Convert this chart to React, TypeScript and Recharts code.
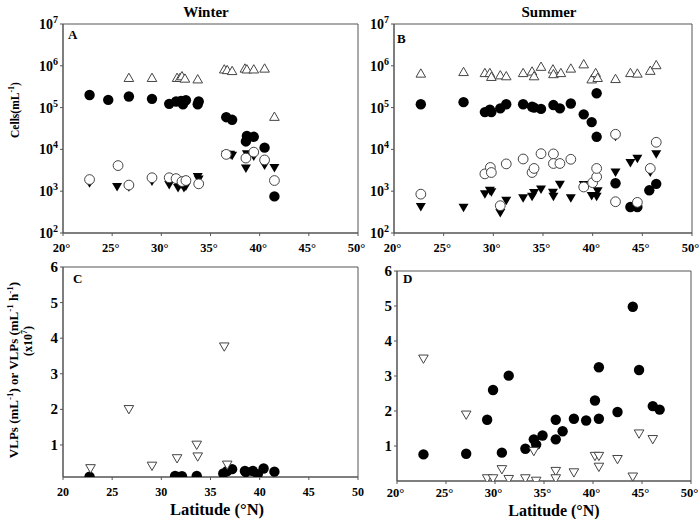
import React from "react";
import { ScatterChart, Scatter, XAxis, YAxis, ReferenceArea } from "recharts";

// [latitude, value] pairs
const winterFilledCircles: [number, number][] = [
  [22.7, 2.0e5], [24.6, 1.53e5], [26.7, 1.84e5], [29.05, 1.62e5], [30.8, 1.23e5],
  [31.5, 1.4e5], [32.0, 1.45e5], [32.2, 1.2e5], [32.5, 1.5e5], [33.7, 1.2e5],
  [33.8, 1.4e5], [36.6, 5.9e4], [37.2, 5.1e4], [38.6, 1.55e4], [38.7, 2.1e4],
  [39.4, 2.0e4], [40.5, 1.1e4], [41.5, 750],
];
const winterOpenUp: [number, number][] = [
  [26.7, 5.2e5], [29.05, 5.2e5], [31.6, 5.2e5], [31.9, 5.2e5], [32.1, 5.7e5],
  [32.4, 5.0e5], [33.7, 4.8e5], [36.4, 8.3e5], [36.7, 8.0e5], [37.2, 7.6e5],
  [38.5, 8.7e5], [38.7, 8.3e5], [39.4, 8.3e5], [40.5, 8.7e5], [41.5, 6.1e4],
];
const winterFilledDown: [number, number][] = [
  [22.7, 1.56e3], [25.5, 1.26e3], [26.7, 1.25e3], [29.05, 1.7e3], [30.8, 1.4e3],
  [31.5, 1.7e3], [31.7, 1.2e3], [32.0, 1.45e3], [32.3, 1.2e3], [32.5, 1.3e3],
  [33.7, 2.2e3], [33.8, 1.9e3], [36.6, 7.4e3], [37.0, 7.4e3], [37.2, 7.0e3],
  [38.6, 3.5e3], [38.7, 7.7e3], [39.4, 6.8e3], [40.5, 4.1e3], [41.5, 3.6e3],
];
const winterOpenCircles: [number, number][] = [
  [22.7, 1.9e3], [25.6, 4.1e3], [26.7, 1.4e3], [29.05, 2.1e3], [30.8, 2.1e3],
  [31.5, 2.0e3], [32.1, 1.7e3], [32.5, 1.8e3], [33.8, 1.5e3], [36.6, 7.6e3],
  [38.6, 6.2e3], [39.4, 8.6e3], [40.5, 5.6e3], [41.5, 1.8e3],
];

const summerFilledCircles: [number, number][] = [
  [22.7, 1.2e5], [27.0, 1.35e5], [29.15, 7.8e4], [29.65, 8.9e4], [29.8, 7.8e4],
  [30.7, 9.6e4], [31.3, 1.2e5], [33.0, 1.2e5], [33.9, 1.05e5], [34.1, 1.0e5],
  [34.8, 9.3e4], [36.05, 1.15e5], [36.7, 9.6e4], [37.8, 1.25e5], [39.1, 6.9e4],
  [39.9, 4.5e4], [40.4, 2.0e4], [40.4, 2.2e5], [42.3, 1.55e3], [43.8, 420],
  [44.5, 420], [45.7, 1.05e3], [46.4, 1.5e3],
];
const summerOpenUp: [number, number][] = [
  [22.7, 6.6e5], [27.0, 7.2e5], [29.15, 6.8e5], [29.65, 6.8e5], [29.8, 5.5e5],
  [30.7, 6.0e5], [31.3, 5.7e5], [33.0, 6.8e5], [33.9, 7.4e5], [34.1, 5.7e5],
  [34.8, 9.6e5], [36.0, 8.3e5], [36.05, 6.4e5], [36.8, 6.8e5], [37.8, 8.7e5],
  [39.1, 1.1e6], [39.9, 4.8e5], [40.3, 6.8e5], [40.5, 5.2e5], [42.3, 4.9e5],
  [43.8, 6.8e5], [44.5, 6.6e5], [45.8, 7.7e5], [46.4, 1.05e6],
];
const summerFilledDown: [number, number][] = [
  [22.7, 420], [27.0, 400], [29.15, 850], [29.65, 1.02e3], [29.8, 950],
  [30.7, 300], [31.3, 590], [33.0, 680], [33.9, 740], [34.1, 900],
  [34.8, 1.1e3], [36.0, 920], [36.05, 740], [36.7, 1.43e3], [37.8, 680],
  [39.1, 1.4e3], [39.9, 770], [40.4, 740], [40.5, 1.0e3], [42.3, 2.0e4],
  [42.3, 2.8e3], [43.8, 4.7e3], [44.5, 6.0e3], [45.8, 2.8e3], [46.4, 7.7e3],
];
const summerOpenCircles: [number, number][] = [
  [22.7, 850], [29.15, 2.6e3], [29.7, 3.7e3], [29.8, 2.8e3], [30.7, 450],
  [31.3, 4.5e3], [33.0, 5.9e3], [33.9, 2.8e3], [34.1, 3.5e3], [34.8, 7.9e3],
  [36.05, 7.8e3], [36.05, 4.6e3], [36.7, 4.6e3], [37.8, 5.8e3], [39.1, 1.26e3],
  [40.0, 1.6e3], [40.4, 2.2e3], [40.4, 3.5e3], [42.3, 2.3e4], [42.3, 560],
  [44.5, 540], [45.8, 3.5e3], [46.4, 1.48e4],
];

const winterVlpCircles: [number, number][] = [
  [22.7, 0.11], [31.4, 0.13], [31.8, 0.1], [32.1, 0.12], [33.6, 0.13],
  [36.3, 0.2], [36.7, 0.27], [37.2, 0.32], [38.5, 0.27], [38.6, 0.24],
  [39.3, 0.27], [39.8, 0.18], [40.4, 0.34], [41.5, 0.25],
];
const winterVlpTriangles: [number, number][] = [
  [22.8, 0.34], [26.7, 2.0], [29.05, 0.41], [31.6, 0.62], [33.6, 1.0],
  [33.7, 0.67], [36.4, 3.76], [36.7, 0.44],
];
const summerVlpCircles: [number, number][] = [
  [22.7, 0.76], [27.06, 0.78], [29.2, 1.75], [29.8, 2.6], [30.7, 0.81],
  [31.4, 3.01], [33.1, 0.92], [33.96, 1.19], [34.2, 1.04], [34.85, 1.3],
  [36.2, 1.75], [36.2, 1.19], [36.9, 1.42], [38.05, 1.78], [39.3, 1.73],
  [40.2, 2.3], [40.6, 3.25], [40.6, 1.78], [42.5, 1.97], [44.06, 4.98],
  [44.7, 3.17], [46.1, 2.14], [46.8, 2.04],
];
const summerVlpTriangles: [number, number][] = [
  [22.7, 3.49], [27.06, 1.89], [29.2, 0.07], [29.8, 0.07], [30.7, 0.33],
  [31.4, 0.05], [33.1, 0.07], [33.96, 0.85], [34.2, 0.0], [36.2, 0.28],
  [36.2, 0.07], [38.05, 0.24], [40.2, 0.71], [40.6, 0.71], [40.6, 0.4],
  [42.5, 0.62], [44.06, 0.12], [44.7, 1.35], [46.1, 1.19],
];

const latTicks = [20, 25, 30, 35, 40, 45, 50];
const logTicks = [1e2, 1e3, 1e4, 1e5, 1e6, 1e7];
const vlpTicks = [1, 2, 3, 4, 5, 6];

const FONT = "'Liberation Serif', 'Times New Roman', serif";
const LINE = "#555";
const OPEN_STROKE = "#444";

const toPts = (arr: [number, number][]) => arr.map(([lat, v]) => ({ lat, v }));

const FilledCircle = (p: any) => <circle cx={p.cx} cy={p.cy} r={5.2} fill="#000" />;
const OpenCircle = (p: any) => (
  <circle cx={p.cx} cy={p.cy} r={4.9} fill="#fff" stroke={OPEN_STROKE} strokeWidth={1} />
);
const OpenUp = (p: any) => (
  <polygon
    points={`${p.cx},${p.cy - 4.5} ${p.cx - 4.8},${p.cy + 3.8} ${p.cx + 4.8},${p.cy + 3.8}`}
    fill="#fff"
    stroke={OPEN_STROKE}
    strokeWidth={1}
  />
);
const FilledDown = (p: any) => (
  <polygon
    points={`${p.cx - 5},${p.cy - 4} ${p.cx + 5},${p.cy - 4} ${p.cx},${p.cy + 4.5}`}
    fill="#000"
  />
);
const OpenDown = (p: any) => (
  <polygon
    points={`${p.cx - 4.8},${p.cy - 3.8} ${p.cx + 4.8},${p.cy - 3.8} ${p.cx},${p.cy + 4.5}`}
    fill="#fff"
    stroke={OPEN_STROKE}
    strokeWidth={1}
  />
);

const PowTick = ({ x, y, payload }: any) => {
  const exp = Math.round(Math.log10(payload.value));
  return (
    <text x={x} y={y + 5} textAnchor="end" fontFamily={FONT} fontWeight="bold" fontSize={14} fill="#000">
      10<tspan dy={-6} fontSize={10}>{exp}</tspan>
    </text>
  );
};

const NumTick = ({ x, y, payload }: any) => (
  <text x={x} y={y + 5} textAnchor="end" fontFamily={FONT} fontWeight="bold" fontSize={15} fill="#000">
    {payload.value}
  </text>
);

const makeDegTick = (dy: number) => ({ x, y, payload }: any) => (
  <text x={x - 1.5} y={y + dy} textAnchor="middle" fontFamily={FONT} fontWeight="bold" fontSize={12.5} fill="#000">
    {payload.value}°
  </text>
);
const DegTickTop = makeDegTick(14);
const DegTickBottom = makeDegTick(11);

const PlainTick = ({ x, y, payload }: any) => (
  <text x={x} y={y + 14} textAnchor="middle" fontFamily={FONT} fontWeight="bold" fontSize={12} fill="#000">
    {payload.value}
  </text>
);

const CellsPanel = ({ left, width, right, sets }: any) => (
  <div style={{ position: "absolute", left, top: 0 }}>
    <ScatterChart width={width} height={258} margin={{ top: 24, right, bottom: 0, left: 0 }}>
      <XAxis
        type="number"
        dataKey="lat"
        domain={[20, 50]}
        ticks={latTicks}
        height={25}
        tickSize={3}
        stroke={LINE}
        tick={<DegTickTop />}
      />
      <YAxis
        type="number"
        dataKey="v"
        scale="log"
        domain={[100, 1e7]}
        ticks={logTicks}
        width={63}
        tickSize={3}
        stroke={LINE}
        tick={<PowTick />}
        allowDataOverflow
      />
      <ReferenceArea x1={20} x2={50} y1={100} y2={1e7} fill="none" stroke={LINE} strokeOpacity={1} fillOpacity={0} />
      <Scatter data={toPts(sets[0])} shape={FilledCircle} isAnimationActive={false} />
      <Scatter data={toPts(sets[1])} shape={OpenUp} isAnimationActive={false} />
      <Scatter data={toPts(sets[2])} shape={FilledDown} isAnimationActive={false} />
      <Scatter data={toPts(sets[3])} shape={OpenCircle} isAnimationActive={false} />
    </ScatterChart>
  </div>
);

const VlpPanel = ({ left, width, right, yWidth, top, xHeight, yMin, degrees, sets }: any) => (
  <div style={{ position: "absolute", left, top: 255 }}>
    <ScatterChart width={width} height={264} margin={{ top, right, bottom: 0, left: 0 }}>
      <XAxis
        type="number"
        dataKey="lat"
        domain={[20, 50]}
        ticks={latTicks}
        height={xHeight}
        tickSize={3}
        stroke={LINE}
        tick={degrees ? <DegTickBottom /> : <PlainTick />}
      />
      <YAxis
        type="number"
        dataKey="v"
        domain={[yMin, 6]}
        ticks={vlpTicks}
        width={yWidth}
        tickSize={3}
        stroke={LINE}
        tick={<NumTick />}
        allowDataOverflow
      />
      <ReferenceArea x1={20} x2={50} y1={yMin} y2={6} fill="none" stroke={LINE} strokeOpacity={1} fillOpacity={0} />
      <Scatter data={toPts(sets[0])} shape={FilledCircle} isAnimationActive={false} />
      <Scatter data={toPts(sets[1])} shape={OpenDown} isAnimationActive={false} />
    </ScatterChart>
  </div>
);

const txt = { fontFamily: FONT, fontWeight: "bold" as const, fill: "#000" };

export default function App() {
  return (
    <div style={{ position: "absolute", left: 0, top: 0, width: 700, height: 519, background: "#fff", overflow: "hidden" }}>
      <CellsPanel
        left={0}
        width={372}
        right={14}
        sets={[winterFilledCircles, winterOpenUp, winterFilledDown, winterOpenCircles]}
      />
      <CellsPanel
        left={331}
        width={369}
        right={8}
        sets={[summerFilledCircles, summerOpenUp, summerFilledDown, summerOpenCircles]}
      />
      <VlpPanel
        left={0}
        width={372}
        right={14}
        yWidth={63}
        top={12}
        xHeight={42}
        yMin={0.1}
        degrees={false}
        sets={[winterVlpCircles, winterVlpTriangles]}
      />
      <VlpPanel
        left={331}
        width={369}
        right={9}
        yWidth={66}
        top={16}
        xHeight={38}
        yMin={0}
        degrees={true}
        sets={[summerVlpCircles, summerVlpTriangles]}
      />
      <svg width={700} height={519} style={{ position: "absolute", left: 0, top: 0, pointerEvents: "none" }}>
        <text x={206} y={17} textAnchor="middle" fontSize={15} {...txt}>Winter</text>
        <text x={549} y={17} textAnchor="middle" fontSize={15} {...txt}>Summer</text>
        <text x={68} y={39} fontSize={13} {...txt}>A</text>
        <text x={397} y={43} fontSize={13} {...txt}>B</text>
        <text x={73} y={283} fontSize={13} {...txt}>C</text>
        <text x={403} y={283} fontSize={13} {...txt}>D</text>
        <text x={217} y={515} textAnchor="middle" fontSize={16.5} {...txt}>Latitude (°N)</text>
        <text x={554} y={516} textAnchor="middle" fontSize={16} {...txt}>Latitude (°N)</text>
        <text transform="translate(19,110) rotate(-90)" textAnchor="middle" fontSize={11.5} {...txt}>
          Cells(mL<tspan dy={-5} fontSize={8}>-1</tspan><tspan dy={5}>)</tspan>
        </text>
        <text transform="translate(18,370) rotate(-90)" textAnchor="middle" fontSize={13} {...txt}>
          VLPs (mL<tspan dy={-5} fontSize={9}>-1</tspan><tspan dy={5}>) or VLPs (mL</tspan>
          <tspan dy={-5} fontSize={9}>-1</tspan><tspan dy={5}> h</tspan>
          <tspan dy={-5} fontSize={9}>-1</tspan><tspan dy={5}>)</tspan>
        </text>
        <text transform="translate(32,341) rotate(-90)" textAnchor="middle" fontSize={12} {...txt}>
          (x10<tspan dy={-5} fontSize={8}>7</tspan><tspan dy={5}>)</tspan>
        </text>
      </svg>
    </div>
  );
}
